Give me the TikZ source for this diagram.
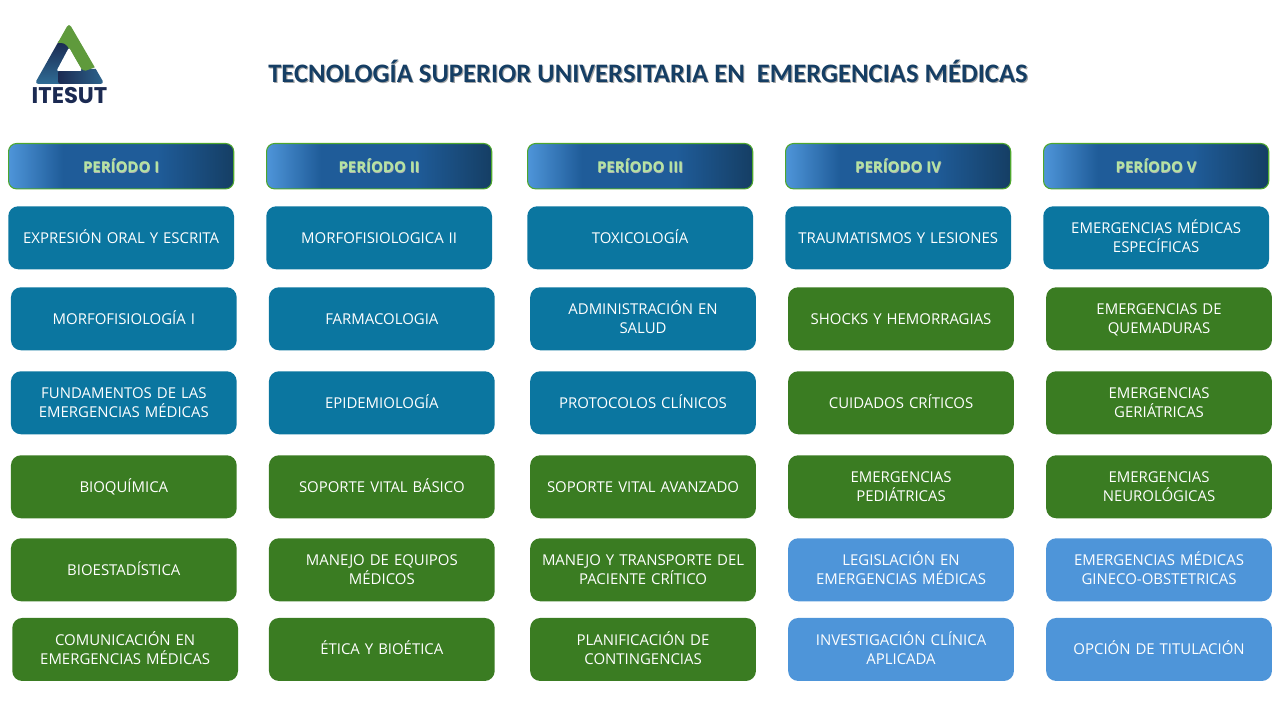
\documentclass[tikz,border=0pt]{standalone}
\usepackage{fontspec}
\setmainfont{Open Sans}
\newfontfamily\titlefont{Carlito}
\newfontfamily\logofont{Poppins}
\definecolor{cTeal}{HTML}{0B76A0}
\definecolor{cGreen}{HTML}{3A7C22}
\definecolor{cLight}{HTML}{4E95D9}
\definecolor{cNavy}{HTML}{153E64}
\definecolor{cMid}{HTML}{1F5C99}
\definecolor{cHead}{HTML}{B4E5A2}
\definecolor{cEdge}{HTML}{4EA72E}
\definecolor{cInk}{HTML}{1B2A52}
\definecolor{cLeaf}{HTML}{5F9A3C}
\definecolor{cSea}{HTML}{2F6C95}
\pgfdeclarehorizontalshading{headgrad}{100bp}{color(0bp)=(cLight); color(25bp)=(cLight); color(37bp)=(cMid); color(58bp)=(cMid); color(75bp)=(cNavy); color(100bp)=(cNavy)}
\newcommand{\shadowed}[3]{\leavevmode\rlap{\kern#2\raisebox{-#2}{\textcolor{#3}{#1}}}#1}
\newcommand{\headlabel}[1]{\raisebox{0.8pt}{\shadowed{#1}{0.4pt}{black!30}}}
\newcommand{\lnstrut}{\rule[-3.15pt]{0pt}{14.3pt}}
\tikzset{
  x=0.75pt,y=-0.75pt,
  course/.style={rounded corners=7.5pt,minimum width=169.3pt,minimum height=47.25pt,text width=165pt,align=center,text=white,inner sep=0pt,font=\fontsize{11.2}{14.3}\selectfont,anchor=north west,execute at begin node=\lnstrut},
  teal/.style={course,fill=cTeal},
  grn/.style={course,fill=cGreen},
  lite/.style={course,fill=cLight},
  period/.style={rounded corners=6pt,minimum width=168.9pt,minimum height=34pt,shading=headgrad,draw=cEdge,line width=0.8pt,text=cHead,inner sep=0pt,font=\fontsize{11.2}{12}\selectfont\bfseries,anchor=north west},
  titletext/.style={text=cNavy,inner sep=0pt,font=\titlefont\fontsize{20}{24}\selectfont\bfseries,anchor=west},
  logotext/.style={text=cInk,inner sep=0pt,font=\logofont\fontsize{17}{18}\selectfont\bfseries}
}
\begin{document}
\begin{tikzpicture}
\useasboundingbox (0,0) rectangle (1280,720);
% logo: body, bottom band, green arm, hole
\begin{scope}
\clip[rounded corners=3pt] (69,23) -- (34.5,84) -- (104.5,84) -- cycle;
\shade[top color=cInk,bottom color=cSea] (30,42) rectangle (70,84);
\shade[left color=cInk,right color=cSea,rounded corners=2pt] (58,84) -- (58,72) -- (60,69) -- (110,69) -- (110,84) -- cycle;
\fill[cLeaf,rounded corners=2.5pt] (69,20) -- (55,43) -- (65,43) -- (70,50) -- (83,71.5) -- (88,70) -- (98,66) -- (75,20) -- cycle;
\end{scope}
\fill[white,rounded corners=1.5pt] (69,47.5) -- (56.5,71) -- (82,71) -- cycle;
\node[logotext] (logo) at (69.5,96) {ITESUT};
% title
\node[titletext] (title) at (268,71.5) {\shadowed{TECNOLOGÍA SUPERIOR UNIVERSITARIA EN\ \ EMERGENCIAS MÉDICAS}{0.8pt}{black!35}};
% headers
\node[period] (p1) at (8,143) {\headlabel{PERÍODO I}};
\node[period] (p2) at (266,143) {\headlabel{PERÍODO II}};
\node[period] (p3) at (527,143) {\headlabel{PERÍODO III}};
\node[period] (p4) at (785,143) {\headlabel{PERÍODO IV}};
\node[period] (p5) at (1043,143) {\headlabel{PERÍODO V}};
% row 1
\node[teal] (a1) at (8,206) {EXPRESIÓN ORAL Y ESCRITA};
\node[teal] (b1) at (266,206) {MORFOFISIOLOGICA II};
\node[teal] (c1) at (527,206) {TOXICOLOGÍA};
\node[teal] (d1) at (785,206) {TRAUMATISMOS Y LESIONES};
\node[teal] (e1) at (1043,206) {EMERGENCIAS MÉDICAS\\\lnstrut ESPECÍFICAS};
% row 2
\node[teal] (a2) at (10.7,287) {MORFOFISIOLOGÍA I};
\node[teal] (b2) at (268.7,287) {FARMACOLOGIA};
\node[teal] (c2) at (529.9,287) {ADMINISTRACIÓN EN\\\lnstrut SALUD};
\node[grn] (d2) at (787.9,287) {SHOCKS Y HEMORRAGIAS};
\node[grn] (e2) at (1045.9,287) {EMERGENCIAS DE\\\lnstrut QUEMADURAS};
% row 3
\node[teal] (a3) at (10.7,371) {FUNDAMENTOS DE LAS\\\lnstrut EMERGENCIAS MÉDICAS};
\node[teal] (b3) at (268.7,371) {EPIDEMIOLOGÍA};
\node[teal] (c3) at (529.9,371) {PROTOCOLOS CLÍNICOS};
\node[grn] (d3) at (787.9,371) {CUIDADOS CRÍTICOS};
\node[grn] (e3) at (1045.9,371) {EMERGENCIAS\\\lnstrut GERIÁTRICAS};
% row 4
\node[grn] (a4) at (10.7,455) {BIOQUÍMICA};
\node[grn] (b4) at (268.7,455) {SOPORTE VITAL BÁSICO};
\node[grn] (c4) at (529.9,455) {SOPORTE VITAL AVANZADO};
\node[grn] (d4) at (787.9,455) {EMERGENCIAS\\\lnstrut PEDIÁTRICAS};
\node[grn] (e4) at (1045.9,455) {EMERGENCIAS\\\lnstrut NEUROLÓGICAS};
% row 5
\node[grn] (a5) at (10.7,538) {BIOESTADÍSTICA};
\node[grn] (b5) at (268.7,538) {MANEJO DE EQUIPOS\\\lnstrut MÉDICOS};
\node[grn] (c5) at (529.9,538) {MANEJO Y TRANSPORTE DEL\\\lnstrut PACIENTE CRÍTICO};
\node[lite] (d5) at (787.9,538) {LEGISLACIÓN EN\\\lnstrut EMERGENCIAS MÉDICAS};
\node[lite] (e5) at (1045.9,538) {EMERGENCIAS MÉDICAS\\\lnstrut GINECO-OBSTETRICAS};
% row 6
\node[grn] (a6) at (12,617.7) {COMUNICACIÓN EN\\\lnstrut EMERGENCIAS MÉDICAS};
\node[grn] (b6) at (268.7,617.7) {ÉTICA Y BIOÉTICA};
\node[grn] (c6) at (529.9,617.7) {PLANIFICACIÓN DE\\\lnstrut CONTINGENCIAS};
\node[lite] (d6) at (787.9,617.7) {INVESTIGACIÓN CLÍNICA\\\lnstrut APLICADA};
\node[lite] (e6) at (1045.9,617.7) {OPCIÓN DE TITULACIÓN};
\end{tikzpicture}
\end{document}
